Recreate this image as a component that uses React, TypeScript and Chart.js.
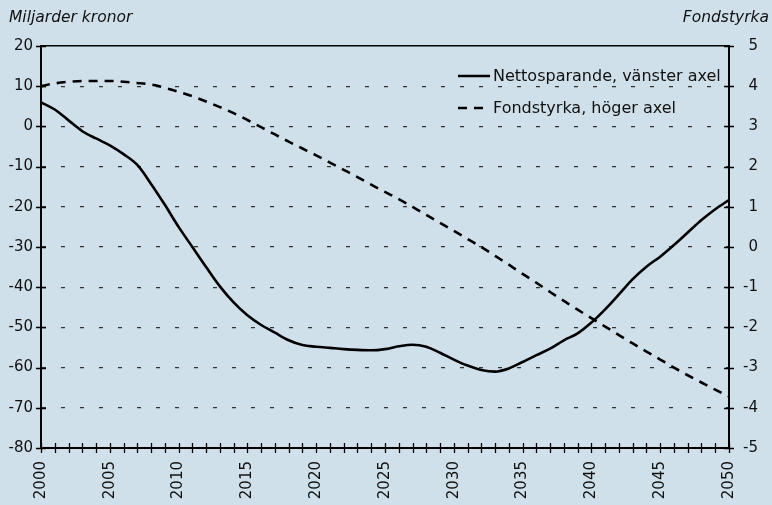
import React, { useEffect, useRef } from 'react';
import { Chart, registerables } from 'chart.js';

Chart.register(...registerables);

const years = [
  '2000', '2001', '2002', '2003', '2004', '2005', '2006', '2007', '2008', '2009',
  '2010', '2011', '2012', '2013', '2014', '2015', '2016', '2017', '2018', '2019',
  '2020', '2021', '2022', '2023', '2024', '2025', '2026', '2027', '2028', '2029',
  '2030', '2031', '2032', '2033', '2034', '2035', '2036', '2037', '2038', '2039',
  '2040', '2041', '2042', '2043', '2044', '2045', '2046', '2047', '2048', '2049',
  '2050',
];

// Nettosparande, miljarder kronor (left axis)
const netSaving = [
  6.0, 4.2, 1.5, -1.2, -3.0, -4.7, -6.9, -9.6, -14.3, -19.5,
  -25.0, -30.0, -35.0, -39.8, -43.8, -47.0, -49.4, -51.3, -53.2, -54.4,
  -54.8, -55.1, -55.4, -55.6, -55.7, -55.4, -54.7, -54.3, -54.8, -56.3,
  -58.0, -59.5, -60.6, -61.0, -60.2, -58.6, -56.9, -55.3, -53.2, -51.5,
  -48.8, -45.5, -41.8, -38.0, -34.9, -32.4, -29.5, -26.4, -23.3, -20.6,
  -18.3,
];

// Fondstyrka (right axis)
const fundStrength = [
  4.0, 4.07, 4.11, 4.13, 4.13, 4.13, 4.11, 4.08, 4.04, 3.96,
  3.86, 3.75, 3.62, 3.48, 3.33, 3.16, 2.98, 2.8, 2.62, 2.45,
  2.28, 2.1, 1.92, 1.74, 1.55, 1.37, 1.19, 1.0, 0.8, 0.6,
  0.4, 0.2, 0.0, -0.22, -0.44, -0.67, -0.89, -1.12, -1.34, -1.56,
  -1.77, -1.98, -2.19, -2.4, -2.6, -2.8, -3.0, -3.19, -3.37, -3.55,
  -3.72,
];

const seriesLabels = ['Nettosparande, vänster axel', 'Fondstyrka, höger axel'];
const leftTitle = 'Miljarder kronor';
const rightTitle = 'Fondstyrka';

const leftMin = -80;
const leftMax = 20;
const leftStep = 10;
const rightMin = -5;
const rightMax = 5;
const rightStep = 1;

const FONT = "'DejaVu Sans', 'Liberation Sans', Arial, sans-serif";
const BG = '#cfe0ea';

const crossTicks = {
  id: 'crossTicks',
  afterDraw(chart: any) {
    const ctx = chart.ctx;
    const { x, y, y2 } = chart.scales;
    ctx.save();
    ctx.strokeStyle = '#000';
    ctx.lineWidth = 1.3;
    ctx.beginPath();
    x.ticks.forEach((_t: any, i: number) => {
      const px = Math.round(x.getPixelForTick(i)) + 0.5;
      ctx.moveTo(px, x.top - 5);
      ctx.lineTo(px, x.top + 5);
    });
    y.ticks.forEach((_t: any, i: number) => {
      const py = Math.round(y.getPixelForTick(i)) + 0.5;
      ctx.moveTo(y.right - 5, py);
      ctx.lineTo(y.right + 5, py);
    });
    y2.ticks.forEach((_t: any, i: number) => {
      const py = Math.round(y2.getPixelForTick(i)) + 0.5;
      ctx.moveTo(y2.left - 5, py);
      ctx.lineTo(y2.left + 5, py);
    });
    ctx.stroke();
    ctx.restore();
  },
};

const titlesAndLegend = {
  id: 'titlesAndLegend',
  afterDraw(chart: any) {
    const ctx = chart.ctx;
    const area = chart.chartArea;
    ctx.save();
    ctx.fillStyle = '#111';
    ctx.font = `italic 15.5px ${FONT}`;
    ctx.textBaseline = 'middle';
    ctx.textAlign = 'left';
    ctx.fillText(leftTitle, 9, 18);
    ctx.textAlign = 'right';
    ctx.fillText(rightTitle, chart.width - 3, 18);

    // legend inside plot area
    ctx.font = `16px ${FONT}`;
    ctx.textAlign = 'left';
    const lx0 = area.right - 271;
    const lx1 = area.right - 239;
    const tx = area.right - 236;
    chart.data.datasets.forEach((ds: any, i: number) => {
      const ly = area.top + 30 + i * 32;
      ctx.strokeStyle = '#000';
      ctx.lineWidth = 2.5;
      ctx.setLineDash(ds.borderDash || []);
      ctx.beginPath();
      ctx.moveTo(lx0, ly);
      ctx.lineTo(lx1, ly);
      ctx.stroke();
      ctx.setLineDash([]);
      ctx.fillStyle = '#111';
      ctx.fillText(ds.label, tx, ly + 1);
    });
    ctx.restore();
  },
};

export default function App() {
  const canvasRef = useRef<HTMLCanvasElement | null>(null);

  useEffect(() => {
    if (!canvasRef.current) return;
    Chart.defaults.font.family = FONT;
    Chart.defaults.color = '#111';
    const chart = new Chart(canvasRef.current, {
      type: 'line',
      data: {
        labels: years,
        datasets: [
          {
            label: seriesLabels[0],
            data: netSaving,
            yAxisID: 'y',
            borderColor: '#000',
            borderWidth: 2.6,
            pointRadius: 0,
            cubicInterpolationMode: 'monotone',
            fill: false,
          },
          {
            label: seriesLabels[1],
            data: fundStrength,
            yAxisID: 'y2',
            borderColor: '#000',
            borderWidth: 2.6,
            borderDash: [9, 7],
            pointRadius: 0,
            cubicInterpolationMode: 'monotone',
            fill: false,
          },
        ],
      },
      options: {
        animation: false,
        responsive: true,
        maintainAspectRatio: false,
        layout: { padding: { top: 46, left: 0, right: 14, bottom: 0 } },
        plugins: {
          legend: { display: false },
          tooltip: { enabled: false },
        },
        scales: {
          x: {
            type: 'category',
            offset: false,
            grid: { display: false, drawTicks: false },
            border: { display: true, color: '#000', width: 2 },
            ticks: {
              autoSkip: false,
              maxRotation: 90,
              minRotation: 90,
              padding: 13,
              font: { size: 15, family: FONT },
              color: '#111',
              callback: (_v: any, i: number) => (Number(years[i]) % 5 === 0 ? years[i] : ''),
            },
            afterFit: (s: any) => {
              s.height = 57;
            },
          },
          y: {
            position: 'left',
            min: leftMin,
            max: leftMax,
            grid: {
              drawTicks: false,
              color: (c: any) =>
                c.tick && c.tick.value === leftMax
                  ? '#000'
                  : c.tick && c.tick.value === leftMin
                  ? 'rgba(0,0,0,0)'
                  : '#333',
              lineWidth: (c: any) => (c.tick && c.tick.value === leftMax ? 1.5 : 1.3),
            },
            border: {
              display: true,
              color: '#000',
              width: 2,
              dash: (c: any) => (c.tick && c.tick.value === leftMax ? [] : [4, 15]),
            },
            ticks: {
              stepSize: leftStep,
              padding: 8,
              font: { size: 15, family: FONT },
              color: '#111',
            },
            afterFit: (s: any) => {
              s.width = 41;
            },
          },
          y2: {
            position: 'right',
            min: rightMin,
            max: rightMax,
            grid: { display: false, drawTicks: false },
            border: { display: true, color: '#000', width: 2 },
            ticks: {
              stepSize: rightStep,
              padding: 14,
              crossAlign: 'far',
              font: { size: 15, family: FONT },
              color: '#111',
            },
            afterFit: (s: any) => {
              s.width = 29;
            },
          },
        },
      },
      plugins: [crossTicks, titlesAndLegend],
    } as any);
    return () => chart.destroy();
  }, []);

  return (
    <div
      style={{
        position: 'fixed',
        left: 0,
        top: 0,
        width: 772,
        height: 505,
        background: BG,
      }}
    >
      <canvas ref={canvasRef} />
    </div>
  );
}
